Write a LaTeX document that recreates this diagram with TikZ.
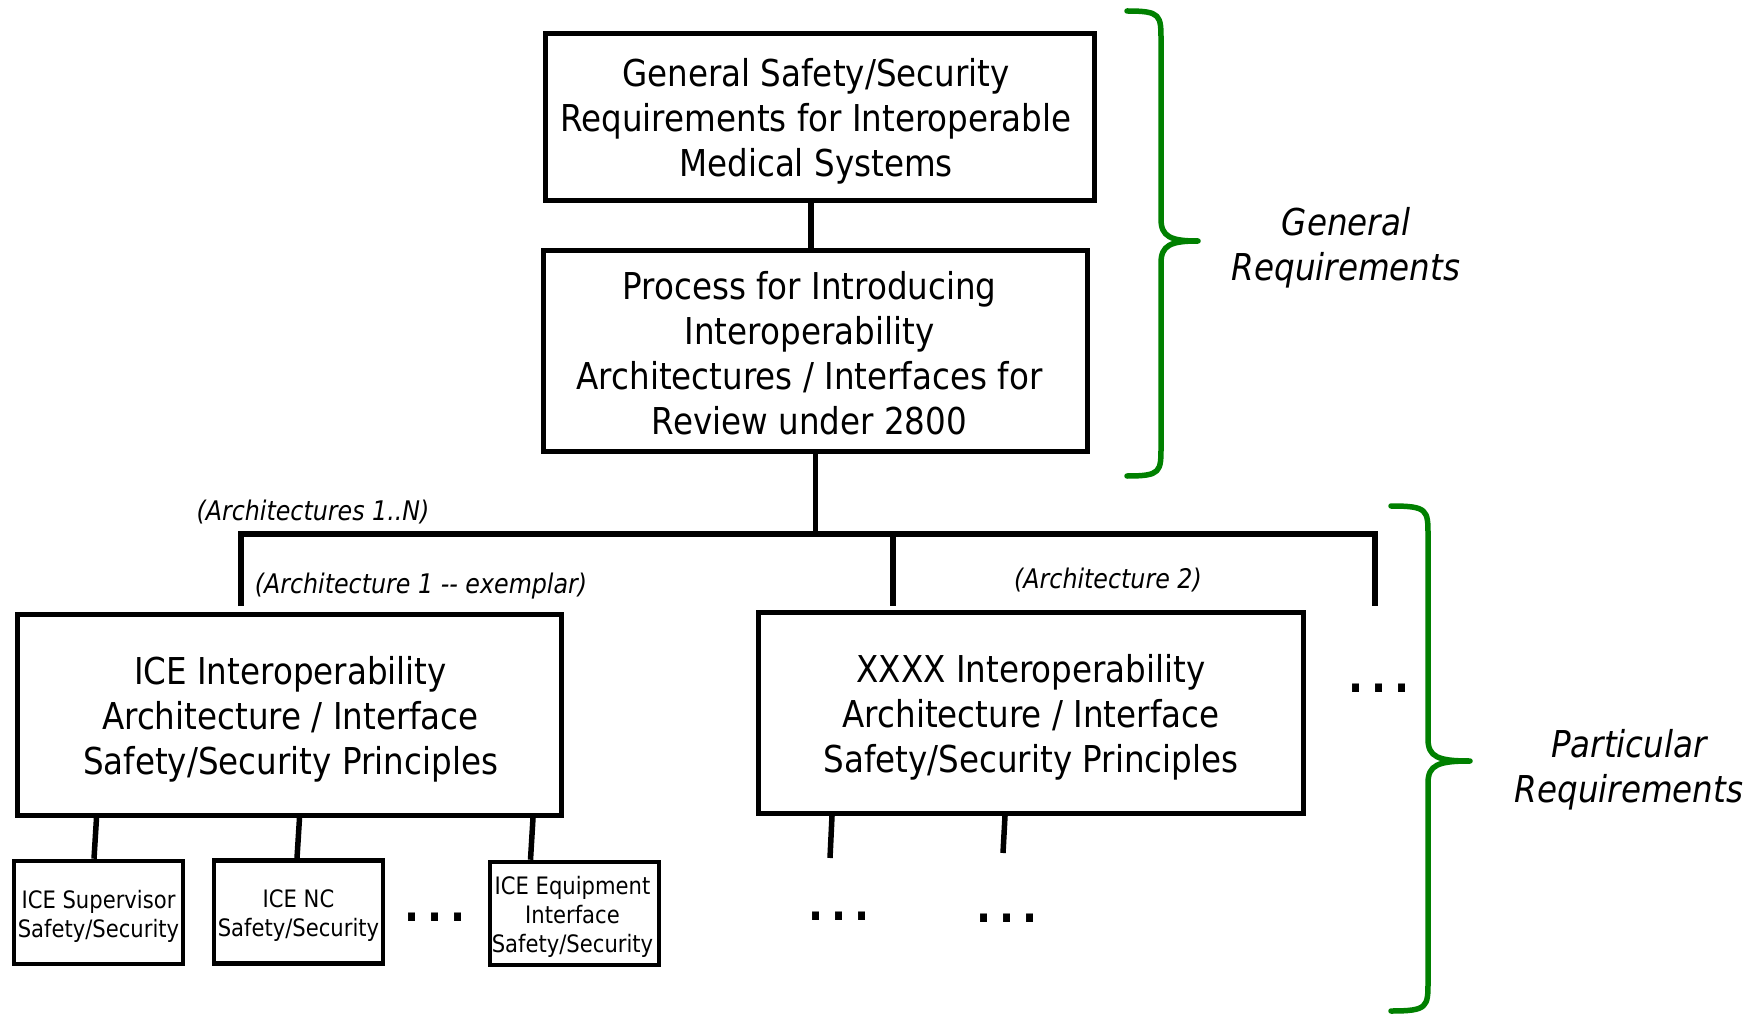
\documentclass[tikz,border=0pt]{standalone}
\usepackage{fontspec}
\setmainfont[FakeStretch=0.88]{DejaVu Sans}
\usetikzlibrary{calc}
\definecolor{bracegreen}{RGB}{0,128,0}
\newcommand\bigtext{\fontsize{37}{45}\selectfont}
\newcommand\smalltext{\fontsize{24}{29}\selectfont}
\newcommand\lbltext{\fontsize{27}{32}\selectfont\itshape}
\newcommand\dotstext{\fontsize{45}{45}\selectfont\bfseries}
% green curly brace: end x, spine x, tip x, top y, tip y, bottom y
\newcommand\reqbrace[6]{%
  \draw[brace] (#1,#4) .. controls (#2,#4) and (#2,#4+4) .. (#2,#4+30)
    -- (#2,#5-22) .. controls (#2,#5-4) and (#2+10,#5) .. (#3,#5)
    .. controls (#2+10,#5) and (#2,#5+4) .. (#2,#5+22)
    -- (#2,#6-30) .. controls (#2,#6-4) and (#2,#6) .. (#1,#6);}
\begin{document}
\begin{tikzpicture}[x=1pt,y=-1pt,
  box/.style={draw,line width=5pt,inner sep=0pt},
  boxtext/.style={align=center,inner sep=0pt,font=\bigtext},
  subbox/.style={draw,line width=4.5pt,inner sep=0pt,
    minimum width=169pt,minimum height=103pt},
  subtext/.style={align=center,inner sep=0pt,font=\smalltext},
  conn/.style={line width=5.5pt},
  lbl/.style={font=\lbltext,inner sep=0pt},
  ellipsis/.style={font=\dotstext,anchor=base,inner sep=0pt},
  grouplbl/.style={font=\bigtext\itshape,align=center,inner sep=0pt},
  brace/.style={draw=bracegreen,line width=5.5pt,line join=round,line cap=round}]
\useasboundingbox (0,0) rectangle (1759,1016);

% main boxes
\node[box,minimum width=549pt,minimum height=167pt] (general) at (820,117) {};
\node[box,minimum width=544pt,minimum height=201pt] (process) at (815.5,351) {};
\node[box,minimum width=544pt,minimum height=201pt] (ice) at (289.5,715) {};
\node[box,minimum width=545pt,minimum height=201pt] (xxxx) at (1031,713) {};

\node[boxtext] (generalText) at ($(general.center)+(-4,4.5)$)
  {General Safety/Security\\Requirements for Interoperable\\Medical Systems};
\node[boxtext] (processText) at ($(process.center)+(-6,2.5)$)
  {Process for Introducing\\Interoperability\\Architectures / Interfaces for\\Review under 2800};
\node[boxtext] (iceText) at ($(ice.center)+(1,4.5)$)
  {ICE Interoperability\\Architecture / Interface\\Safety/Security Principles};
\node[boxtext] (xxxxText) at ($(xxxx.center)+(0,4.5)$)
  {XXXX Interoperability\\Architecture / Interface\\Safety/Security Principles};

% ICE sub-boxes
\node[subbox] (sup) at (98.5,912.5) {};
\node[subbox] (nc) at (298.5,912) {};
\node[subbox] (equip) at (574.5,913.5) {};
\node[subtext] (supText) at ($(sup.center)+(0,4)$) {ICE Supervisor\\Safety/Security};
\node[subtext] (ncText) at ($(nc.center)+(0,4)$) {ICE NC\\Safety/Security};
\node[subtext] (equipText) at ($(equip.center)+(-2,3.5)$) {ICE Equipment\\Interface\\Safety/Security};

% bus between the process box and the architectures
\coordinate (busL) at (241,534);
\coordinate (busM) at (893,534);
\coordinate (busR) at (1375,534);
\coordinate (moreEnd) at (1375,606);
\coordinate (xsubA) at (830,858);
\coordinate (xsubB) at (1003,853);

\draw[conn] ($(general.south)+(-9,0)$) -- ($(process.north)+(-4.5,0)$);
\draw[conn] (process.south) -- (process.south |- busL);
\draw[conn,line join=miter,shorten <=6pt] (busL |- ice.north) -- (busL) -- (busR) -- (moreEnd);
\draw[conn,shorten >=4pt] (busM) -- (busM |- xxxx.north);

\draw[conn] ($(ice.south -| sup.north)+(-2,0)$) -- ($(sup.north)+(-4.5,0)$);
\draw[conn] ($(ice.south -| nc.north)+(1,0)$) -- ($(nc.north)+(-1.5,0)$);
\draw[conn] ($(ice.south -| equip.north)+(-41.5,0)$) -- ($(equip.north)+(-44,0)$);

\draw[conn] ($(xxxx.south -| xsubA)+(2,0)$) -- (xsubA);
\draw[conn] ($(xxxx.south -| xsubB)+(2,0)$) -- (xsubB);

% ellipses
\node[ellipsis] (dotsIce) at (435,921) {.\kern8pt.\kern8pt.};
\node[ellipsis] (dotsXa) at (839,920) {.\kern8pt.\kern8pt.};
\node[ellipsis] (dotsXb) at (1007,922) {.\kern8pt.\kern8pt.};
\node[ellipsis] (dotsMore) at (1379,692) {.\kern8pt.\kern8pt.};

% labels
\node[lbl] (archN) at (313,512) {(Architectures 1..N)};
\node[lbl] (arch1) at (421,586) {(Architecture 1 {-}{-} exemplar)};
\node[lbl] (arch2) at (1108,580) {(Architecture 2)};

% requirement groups
\reqbrace{1127}{1161}{1198}{11}{241}{476}
\reqbrace{1391}{1428}{1470}{506}{761}{1011}
\node[grouplbl] (genReq) at (1346,247.5) {General\\Requirements};
\node[grouplbl] (partReq) at (1629,770) {Particular\\Requirements};
\end{tikzpicture}
\end{document}
